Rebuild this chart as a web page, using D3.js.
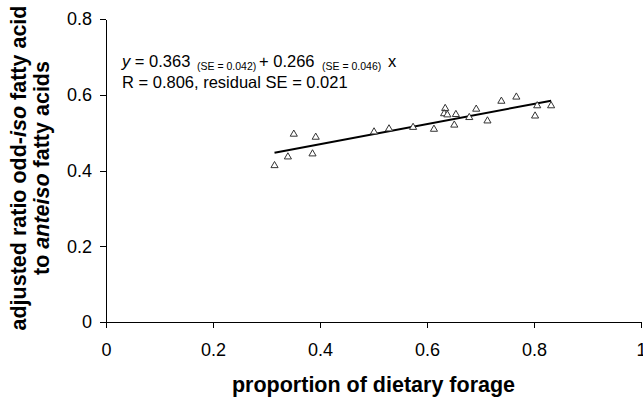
<!DOCTYPE html>
<html>
<head>
<meta charset="utf-8">
<style>
  body { margin: 0; background: #fff; }
  svg { display: block; font-family: "Liberation Sans", Arial, Helvetica, sans-serif; }
  .axis path, .axis line { stroke: #000; stroke-width: 1; shape-rendering: crispEdges; }
  .axis text { font-size: 18px; fill: #000; }
  .title { font-size: 21.5px; font-weight: bold; fill: #000; }
  .eq { font-size: 16.5px; fill: #000; }
</style>
</head>
<body>
<svg width="643" height="400"></svg>
<script src="https://d3js.org/d3.v7.min.js"></script>
<script>
// data
var forage = [0.315, 0.340, 0.351, 0.386, 0.392, 0.501, 0.529, 0.574, 0.613, 0.634,
              0.632, 0.638, 0.654, 0.651, 0.679, 0.692, 0.713, 0.739, 0.767, 0.806,
              0.802, 0.832];
var ratio  = [0.413, 0.436, 0.496, 0.444, 0.488, 0.502, 0.510, 0.514, 0.509, 0.564,
              0.550, 0.547, 0.548, 0.520, 0.540, 0.562, 0.531, 0.583, 0.594, 0.571,
              0.544, 0.571];
var xTicks = [0, 0.2, 0.4, 0.6, 0.8, 1];
var yTicks = [0, 0.2, 0.4, 0.6, 0.8];
var intercept = 0.363, slope = 0.266;

var svg = d3.select("svg");

var x = d3.scaleLinear().domain([0, 1]).range([106, 641]);
var y = d3.scaleLinear().domain([0, 0.8]).range([322, 19]);

svg.append("g")
  .attr("class", "axis")
  .attr("transform", "translate(0," + y(0) + ")")
  .call(d3.axisBottom(x).tickValues(xTicks).tickFormat(String)
    .tickSize(6).tickSizeOuter(0).tickPadding(15));

svg.append("g")
  .attr("class", "axis")
  .attr("transform", "translate(" + x(0) + ",0)")
  .call(d3.axisLeft(y).tickValues(yTicks).tickFormat(String)
    .tickSize(6).tickSizeOuter(0).tickPadding(8));

// fitted line
var xr = d3.extent(forage);
svg.append("line")
  .attr("x1", x(xr[0])).attr("y1", y(intercept + slope * xr[0]))
  .attr("x2", x(xr[1])).attr("y2", y(intercept + slope * xr[1]))
  .attr("stroke", "#000").attr("stroke-width", 2);

// points
var tri = d3.symbol().type(d3.symbolTriangle).size(22);
svg.append("g")
  .selectAll("path")
  .data(forage)
  .enter().append("path")
  .attr("transform", function(d, i) { return "translate(" + x(d) + "," + y(ratio[i]) + ")"; })
  .attr("d", tri)
  .attr("fill", "#fff")
  .attr("stroke", "#333")
  .attr("stroke-width", 1);

// equation
var eq = svg.append("text").attr("class", "eq").attr("y", 66.5);
eq.append("tspan").attr("x", 122).attr("font-style", "italic").text("y");
eq.append("tspan").text(" = 0.363");
eq.append("tspan").attr("x", 197).attr("dy", 3).attr("font-size", "10.5px").text("(SE = 0.042)");
eq.append("tspan").attr("x", 259).attr("dy", -3).text("+ 0.266");
eq.append("tspan").attr("x", 322).attr("dy", 3).attr("font-size", "10.5px").text("(SE = 0.046)");
eq.append("tspan").attr("x", 388).attr("dy", -3).text("x");

svg.append("text").attr("class", "eq").attr("x", 122).attr("y", 87.5)
  .text("R = 0.806, residual SE = 0.021");

// axis titles
svg.append("text").attr("class", "title")
  .attr("x", (x(0) + x(1)) / 2).attr("y", 392)
  .attr("text-anchor", "middle")
  .text("proportion of dietary forage");

var t1 = svg.append("text").attr("class", "title")
  .attr("transform", "translate(26,168) rotate(-90)")
  .attr("text-anchor", "middle");
t1.append("tspan").text("adjusted ratio odd-");
t1.append("tspan").attr("font-style", "italic").text("iso");
t1.append("tspan").text(" fatty acid");

var t2 = svg.append("text").attr("class", "title")
  .attr("transform", "translate(49,168) rotate(-90)")
  .attr("text-anchor", "middle");
t2.append("tspan").text("to ");
t2.append("tspan").attr("font-style", "italic").text("anteiso");
t2.append("tspan").text(" fatty acids");
</script>
</body>
</html>
